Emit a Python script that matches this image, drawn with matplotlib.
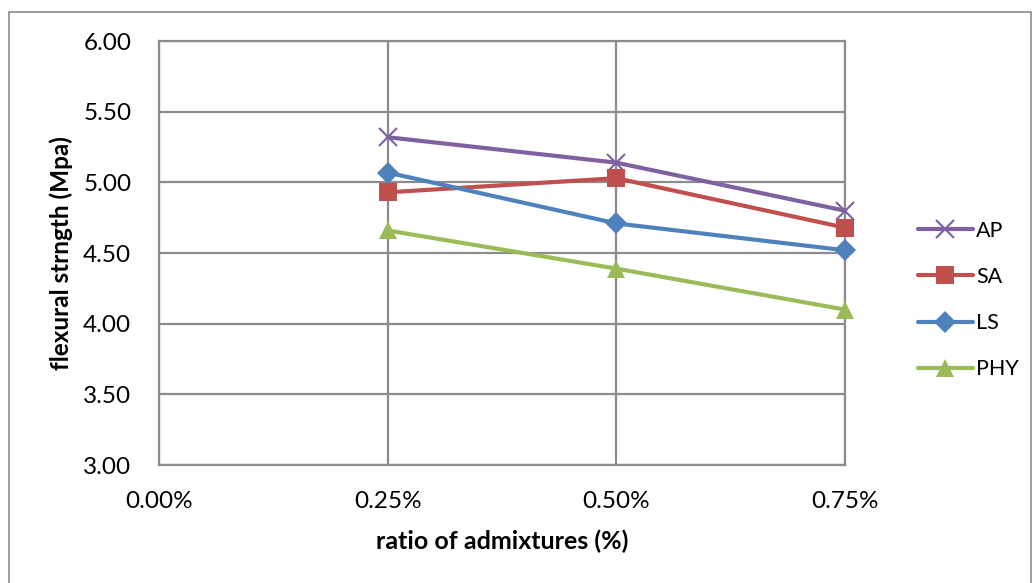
import matplotlib
matplotlib.use("Agg")
import matplotlib.pyplot as plt
from matplotlib.patches import Rectangle
from matplotlib.ticker import FuncFormatter

# flexural strength (MPa) against admixture ratio
ratios = [0.0025, 0.0050, 0.0075]
ap = [5.32, 5.14, 4.80]
sa = [4.93, 5.03, 4.68]
ls = [5.07, 4.71, 4.52]
phy = [4.66, 4.39, 4.10]

x_ticks = [0.0, 0.0025, 0.0050, 0.0075]
y_ticks = [3.0, 3.5, 4.0, 4.5, 5.0, 5.5, 6.0]

plt.rcParams["font.family"] = ["Lato", "DejaVu Sans"]

fig = plt.figure(figsize=(10.33, 5.83), dpi=100)
ax = fig.add_axes([0.154, 0.2024, 0.664, 0.727])

# outer chart frame
fig.patches.append(Rectangle((9 / 1033, -0.05), 1022 / 1033, 1.05 - 12 / 583,
                             transform=fig.transFigure, fill=False,
                             edgecolor="#8c8c8c", linewidth=1.2))

series = [
    ("AP", ap, "#7F60A0", "x"),
    ("SA", sa, "#C0504D", "s"),
    ("LS", ls, "#4F81BD", "D"),
    ("PHY", phy, "#9BBB59", "^"),
]
for name, vals, color, marker in series:
    ms = 13 if marker != "D" else 11
    ax.plot(ratios, vals, color=color, linewidth=3.0, marker=marker,
            markersize=ms, markeredgewidth=1.5 if marker == "x" else 0,
            markeredgecolor=color, label=name, solid_capstyle="round",
            clip_on=False, zorder=3)

ax.set_xlim(0, 0.0075)
ax.set_ylim(3.0, 6.0)
ax.set_xticks(x_ticks)
ax.set_yticks(y_ticks)
ax.xaxis.set_major_formatter(FuncFormatter(lambda v, p: f"{v * 100:.2f}%"))
ax.yaxis.set_major_formatter(FuncFormatter(lambda v, p: f"{v:.2f}"))
ax.tick_params(length=0, labelsize=17.5, colors="black")
ax.tick_params(axis="x", pad=19)
ax.tick_params(axis="y", pad=20)
ax.grid(True, color="#8c8c8c", linewidth=1.6)
for s in ax.spines.values():
    s.set_color("#8c8c8c")
    s.set_linewidth(1.6)

ax.set_xlabel("ratio of admixtures (%)", fontsize=18, fontweight="bold", labelpad=12)
ax.set_ylabel("flexural strngth (Mpa)", fontsize=17.5, fontweight="bold")
ax.yaxis.set_label_coords(-0.125, 0.5)

ax.legend(loc="center left", bbox_to_anchor=(918 / 1033, 1 - 300 / 583),
          bbox_transform=fig.transFigure, frameon=False, fontsize=15.5,
          handlelength=2.55, handletextpad=0.15, labelspacing=1.22,
          borderaxespad=0, borderpad=0)

fig.savefig("out.png", dpi=100)
